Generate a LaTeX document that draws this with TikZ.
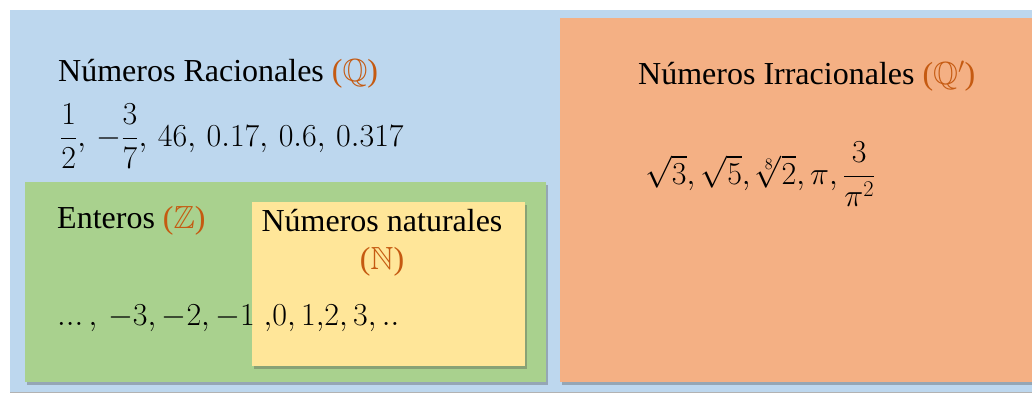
\RequirePackage{fix-cm}
\documentclass[tikz,border=0pt]{standalone}
\usepackage{amsmath,amssymb}
\usepackage{fontspec}
\setmainfont{Liberation Serif}
\usetikzlibrary{shadows}
\definecolor{bluebg}{HTML}{BDD7EE}
\definecolor{orangebg}{HTML}{F4B084}
\definecolor{greenbg}{HTML}{A9D18E}
\definecolor{yellowbg}{HTML}{FFE699}
\definecolor{symb}{HTML}{C55A11}
\tikzset{
  box/.style={draw=none, drop shadow={shadow xshift=2pt, shadow yshift=-3pt, opacity=0.35, fill=black!70}},
  lbl/.style={anchor=west, inner sep=0pt, font=\fontsize{32}{36}\selectfont},
  mth/.style={anchor=west, inner sep=0pt, font=\fontsize{32}{36}\selectfont}
}
\begin{document}
\begin{tikzpicture}[x=1pt,y=-1pt]
\useasboundingbox (0,0) rectangle (1032,399);
\fill[white] (0,0) rectangle (1032,399);
\fill[bluebg] (10,10) rectangle (1032,392);
\draw[black!30, line width=1pt] (10,392) -- (1032,392);
\path[box, fill=orangebg] (560,18) rectangle (1032,382);
\path[box, fill=greenbg] (25,182) rectangle (546,382);
\path[box, fill=yellowbg] (252,202) rectangle (525,366);
\node[lbl] (q) at (58,74) {Números Racionales {\color{symb}($\mathbb{Q}$)}};
\node[mth] (qex) at (60,136) {$\dfrac{1}{2},\,-\dfrac{3}{7},\,46,\,0.17,\,0.6,\,0.317$};
\node[lbl] (z) at (57,221) {Enteros {\color{symb}($\mathbb{Z}$)}};
\node[lbl, anchor=center] (n1) at (382,221) {Números naturales};
\node[lbl, anchor=center] (n2) at (382,262) {\color{symb}($\mathbb{N}$)};
\node[mth] (zex) at (57,318) {${.}{.}{.}\,,\,-3,-2,-1\;{,}0,1{,}2,3,..$};
\node[lbl] (i) at (638,76) {Números Irracionales {\color{symb}($\mathbb{Q}'$)}};
\node[mth] (iex) at (645,174) {$\sqrt{3},\sqrt{5},\sqrt[8]{2},\pi,\dfrac{3}{\pi^2}$};
\end{tikzpicture}
\end{document}
